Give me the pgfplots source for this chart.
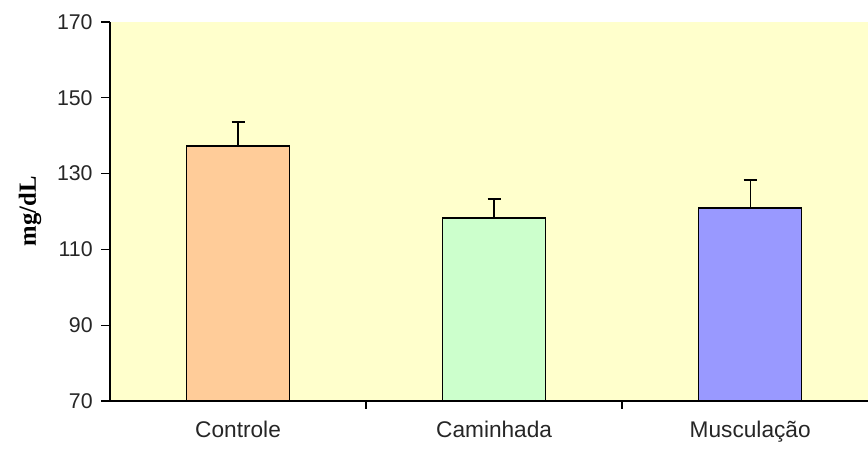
\documentclass[border=0pt]{standalone}
\usepackage{pgfplots}
\pgfplotsset{compat=1.18}
\usepackage{fontspec}
\setmainfont{Liberation Sans}
\newfontfamily\serifb{Liberation Serif}
\definecolor{bgyellow}{RGB}{255,255,204}
\definecolor{cpeach}{RGB}{255,204,153}
\definecolor{cgreen}{RGB}{204,255,204}
\definecolor{cblue}{RGB}{153,153,255}
\begin{document}
\begin{tikzpicture}
\path[use as bounding box] (-82.5pt,-36pt) rectangle (568.5pt,300.75pt);
\begin{axis}[
  at={(0,0)}, anchor=south west,
  scale only axis, width=568.5pt, height=284.25pt,
  xmin=-0.5, xmax=2.46, ymin=70, ymax=170,
  axis x line*=bottom, axis y line*=left,
  axis line style={line width=1pt, -},
  axis background/.style={fill=bgyellow},
  ytick={70,90,...,170},
  xtick={0,1,2},
  xticklabels={Controle,Caminhada,Musculação},
  every major x tick/.append style={draw=none},
  minor xtick={0.5,1.5},
  tick align=outside,
  major tick length=6.5pt, minor tick length=6pt,
  tick style={black, line width=1pt},
  /pgf/number format/assume math mode=true,
  yticklabel style={font=\fontsize{16}{18}\selectfont, color=black!85, xshift=-3pt},
  xticklabel style={font=\fontsize{17}{19}\selectfont, color=black!85, yshift=-5pt},
  ylabel={mg/dL},
  ylabel style={font=\serifb\bfseries\fontsize{18.5}{20}\selectfont, at={([xshift=-60pt]axis description cs:0,0.5)}, anchor=center, rotate=0},
  ybar, bar width=77.25pt, bar shift=0pt,
  error bars/y dir=plus, error bars/y explicit,
  error bars/error bar style={line width=1pt, black},
  error bars/error mark options={rotate=90, mark size=4.9pt, line width=1pt, black},
]
\addplot[fill=cpeach, draw=black, line width=0.9pt] coordinates {(0,137.3) +- (0,6.3)};
\addplot[fill=cgreen, draw=black, line width=0.9pt] coordinates {(1,118.3) +- (0,5.0)};
\addplot[fill=cblue, draw=black, line width=0.9pt] coordinates {(2,120.9) +- (0,7.4)};
\end{axis}
\end{tikzpicture}
\end{document}
